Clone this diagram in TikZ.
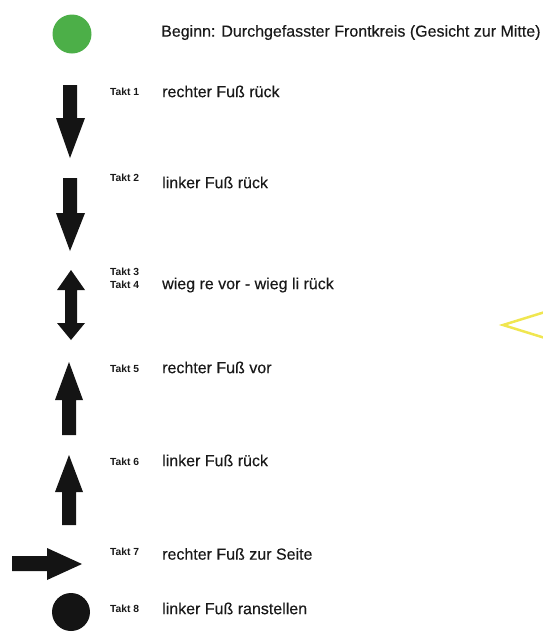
\documentclass[tikz,border=0pt]{standalone}
\usepackage{fontspec}
\setmainfont{Liberation Sans}
\newfontfamily\lblfont[FakeBold=0.35]{Liberation Sans}
\begin{document}
\begin{tikzpicture}[x=1pt,y=-1pt,
  glyph/.style={fill=black!92, draw=none},
  lbl/.style={anchor=mid west, inner sep=0pt, font=\lblfont\fontsize{16}{18}\selectfont, text=black!90},
  takt/.style={anchor=mid west, inner sep=0pt, font=\bfseries\fontsize{10.3}{13.5}\selectfont, text=black!90, align=left}]
\useasboundingbox (0,0) rectangle (542,633);
% start circle
\node[circle, fill={rgb,255:red,76;green,175;blue,72}, minimum size=39pt, inner sep=0pt] (start) at (72,34) {};
\node[lbl] (t0) at (161,34) {Beginn: Durchgefasster Frontkreis (Gesicht zur Mitte)};
% arrow 1 down
\fill[glyph] (63,85) -- (77,85) -- (77,118) -- (85,118) -- (70,158) -- (56,118) -- (63,118) -- cycle;
\node[takt] (k1) at (110,93) {Takt 1};
\node[lbl] (t1) at (162,94.5) {rechter Fuß rück};
% arrow 2 down
\fill[glyph] (63,178) -- (77,178) -- (77,213) -- (85,213) -- (70,251) -- (56,213) -- (63,213) -- cycle;
\node[takt] (k2) at (110,179) {Takt 2};
\node[lbl] (t2) at (162,185.5) {linker Fuß rück};
% double arrow
\fill[glyph] (71,270) -- (85,290) -- (77,290) -- (77,323) -- (85,323) -- (71,340) -- (57,323) -- (65,323) -- (65,290) -- (57,290) -- cycle;
\node[takt] (k34) at (110,286) {Takt 3\\Takt 4};
\node[lbl] (t34) at (162,286.5) {wieg re vor - wieg li rück};
% arrow 5 up
\fill[glyph] (69,362) -- (83,400) -- (76,400) -- (76,435) -- (62,435) -- (62,400) -- (55,400) -- cycle;
\node[takt] (k5) at (110,370) {Takt 5};
\node[lbl] (t5) at (162,370.5) {rechter Fuß vor};
% arrow 6 up
\fill[glyph] (69,455) -- (83,492) -- (76,492) -- (76,525) -- (62,525) -- (62,492) -- (55,492) -- cycle;
\node[takt] (k6) at (110,463) {Takt 6};
\node[lbl] (t6) at (162,463.5) {linker Fuß rück};
% arrow 7 right
\fill[glyph] (12,556) -- (47,556) -- (47,548) -- (82,564) -- (47,580) -- (47,571) -- (12,571) -- cycle;
\node[takt] (k7) at (110,553) {Takt 7};
\node[lbl] (t7) at (162,557) {rechter Fuß zur Seite};
% end circle
\node[circle, fill=black!92, minimum size=38pt, inner sep=0pt] (end) at (71,612) {};
\node[takt] (k8) at (110,610) {Takt 8};
\node[lbl] (t8) at (162,611.5) {linker Fuß ranstellen};
% yellow mark at right edge
\draw[line width=2.5pt, color={rgb,255:red,240;green,230;blue,80}, line join=miter] (545,312) -- (503,325) -- (545,338);
\end{tikzpicture}
\end{document}
